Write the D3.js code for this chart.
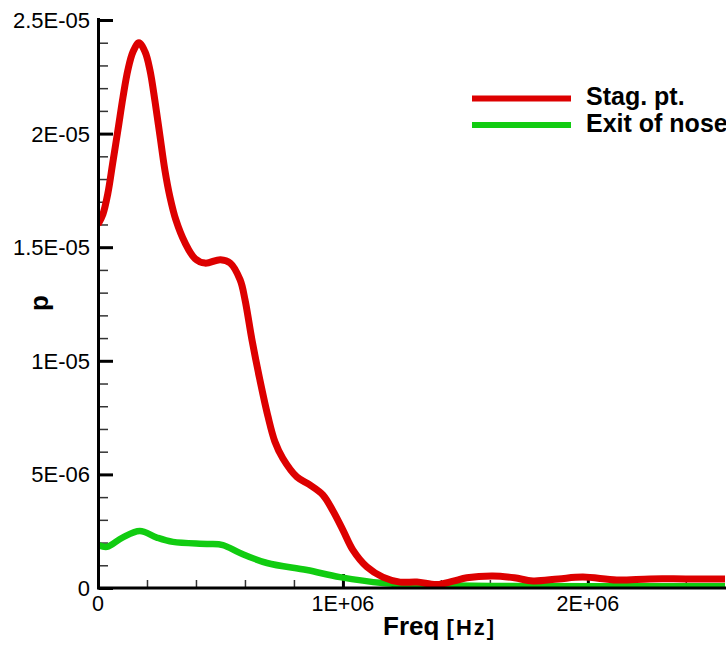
<!DOCTYPE html>
<html>
<head>
<meta charset="utf-8">
<script src="https://cdn.jsdelivr.net/npm/d3@7"></script>
<style>
  body { margin: 0; background: #fff; }
  text { font-family: "Liberation Sans", Arial, sans-serif; fill: #000; }
</style>
</head>
<body>
<div id="chart"></div>
<script>
// values
var stagFreq = [0, 20000, 40000, 60000, 82000, 102000, 122000, 143000, 167000, 192000, 212000,
  233000, 253000, 273000, 294000, 318000, 355000, 396000, 437000, 500000, 540000,
  580000, 600000, 629000, 661000, 694000, 722000, 755000, 812000, 865000, 918000,
  959000, 1000000, 1041000, 1098000, 1163000, 1233000, 1302000, 1384000, 1450000, 1506000,
  1612000, 1700000, 1776000, 1880000, 1980000, 2118000, 2253000, 2400000, 2560000];
var stagP = [1.60e-5, 1.645e-5, 1.735e-5, 1.87e-5, 2.02e-5, 2.16e-5, 2.28e-5, 2.36e-5, 2.40e-5, 2.36e-5, 2.28e-5,
  2.14e-5, 1.99e-5, 1.84e-5, 1.72e-5, 1.62e-5, 1.52e-5, 1.45e-5, 1.43e-5, 1.445e-5, 1.43e-5,
  1.357e-5, 1.27e-5, 1.09e-5, 0.916e-5, 0.755e-5, 0.645e-5, 0.57e-5, 0.489e-5, 0.454e-5, 0.41e-5,
  0.34e-5, 0.255e-5, 0.167e-5, 0.093e-5, 0.048e-5, 0.026e-5, 0.026e-5, 0.015e-5, 0.03e-5, 0.045e-5,
  0.053e-5, 0.045e-5, 0.031e-5, 0.04e-5, 0.048e-5, 0.035e-5, 0.04e-5, 0.04e-5, 0.04e-5];

var exitFreq = [0, 37000, 100000, 171000, 240000, 306000, 445000, 510000, 580000, 690000,
  853000, 988000, 1163000, 1367000, 1600000, 2000000, 2560000];
var exitP = [1.89e-6, 1.81e-6, 2.22e-6, 2.51e-6, 2.22e-6, 2.03e-6, 1.94e-6, 1.89e-6, 1.54e-6, 1.10e-6,
  0.79e-6, 0.48e-6, 0.22e-6, 0.13e-6, 0.09e-6, 0.08e-6, 0.08e-6];

var seriesNames = ["Stag. pt.", "Exit of nose"];
var seriesColors = ["#dd0000", "#11cc11"];

var xMajor = [0, 1e6, 2e6];
var xMajorLabels = ["0", "1E+06", "2E+06"];
var yMajor = [0, 5e-6, 1e-5, 1.5e-5, 2e-5, 2.5e-5];
var yMajorLabels = ["0", "5E-06", "1E-05", "1.5E-05", "2E-05", "2.5E-05"];

var svgWidth = 726;
var svgHeight = 645;

var svg = d3.select("#chart")
  .append("svg")
  .attr("width", svgWidth)
  .attr("height", svgHeight);

var x = d3.scaleLinear().domain([0, 2.56e6]).range([98, 725]);
var y = d3.scaleLinear().domain([0, 2.5e-5]).range([588, 20]);

svg.append("clipPath").attr("id", "clip")
  .append("rect").attr("x", 98).attr("y", 0).attr("width", 628).attr("height", 588);

// minor ticks
var xMinor = d3.range(0, 2.56e6, 2e5).filter(d => xMajor.indexOf(d) < 0);
var yMinor = d3.range(0, 2.5e-5 + 1e-9, 1e-6).filter((d, i) => i % 5 != 0);

var xAxisMinor = d3.axisTop(x).tickValues(xMinor).tickSize(8).tickFormat("");
var xAxisMajor = d3.axisTop(x).tickValues(xMajor).tickSize(14).tickFormat("");
var yAxisMinor = d3.axisRight(y).tickValues(yMinor).tickSize(9).tickFormat("");
var yAxisMajor = d3.axisRight(y).tickValues(yMajor).tickSize(14).tickFormat("");

function styleAxis(g, w, col) {
  g.select(".domain").remove();
  g.selectAll("line").attr("stroke", col).attr("stroke-width", w);
}

svg.append("g").attr("transform", "translate(0,588)").call(xAxisMinor).call(g => styleAxis(g, 1.5, "#333"));
svg.append("g").attr("transform", "translate(0,588)").call(xAxisMajor).call(g => styleAxis(g, 3, "#000"));
svg.append("g").attr("transform", "translate(99,0)").call(yAxisMinor).call(g => styleAxis(g, 1.5, "#333"));
svg.append("g").attr("transform", "translate(99,0)").call(yAxisMajor).call(g => styleAxis(g, 3, "#000"));

// curves
var line = d3.line()
  .x(d => x(d[0]))
  .y(d => y(d[1]))
  .curve(d3.curveCatmullRom.alpha(0.5));

var plot = svg.append("g").attr("clip-path", "url(#clip)");

plot.append("path")
  .datum(exitFreq.map((f, i) => [f, exitP[i]]))
  .attr("d", line)
  .attr("fill", "none")
  .attr("stroke", seriesColors[1])
  .attr("stroke-width", 6.5);

plot.append("path")
  .datum(stagFreq.map((f, i) => [f, stagP[i]]))
  .attr("d", line)
  .attr("fill", "none")
  .attr("stroke", seriesColors[0])
  .attr("stroke-width", 7);

// axis lines
svg.append("line").attr("x1", 98).attr("x2", 726).attr("y1", 588).attr("y2", 588)
  .attr("stroke", "#000").attr("stroke-width", 3);
svg.append("line").attr("x1", 98.5).attr("x2", 98.5).attr("y1", 18).attr("y2", 589.5)
  .attr("stroke", "#000").attr("stroke-width", 3);

// tick labels
svg.selectAll(".xlab")
  .data(xMajor)
  .enter()
  .append("text")
  .attr("x", d => x(d))
  .attr("y", 611)
  .attr("text-anchor", "middle")
  .style("font-size", "21.5px")
  .text((d, i) => xMajorLabels[i]);

svg.selectAll(".ylab")
  .data(yMajor)
  .enter()
  .append("text")
  .attr("x", 90)
  .attr("y", d => y(d) + 8)
  .attr("text-anchor", "end")
  .style("font-size", "22px")
  .text((d, i) => yMajorLabels[i]);

// axis titles
var xt = svg.append("text").attr("x", 383).attr("y", 635).style("font-weight", "bold");
xt.append("tspan").style("font-size", "26px").text("Freq ");
xt.append("tspan").style("font-size", "22px").style("letter-spacing", "2px").text("[Hz]");

svg.append("text")
  .attr("transform", "translate(48,303) rotate(-90)")
  .attr("text-anchor", "middle")
  .style("font-size", "26px")
  .style("font-weight", "bold")
  .text("p");

// legend (second label runs off the right edge, as in the original)
var legend = svg.append("g");
seriesNames.forEach(function(name, i) {
  var ly = 98.5 + i * 26.5;
  legend.append("line")
    .attr("x1", 472).attr("x2", 571).attr("y1", ly).attr("y2", ly)
    .attr("stroke", seriesColors[i]).attr("stroke-width", 6);
  legend.append("text")
    .attr("x", 586).attr("y", ly + 6.5)
    .style("font-size", "25px")
    .style("font-weight", "bold")
    .text(name);
});
</script>
</body>
</html>
